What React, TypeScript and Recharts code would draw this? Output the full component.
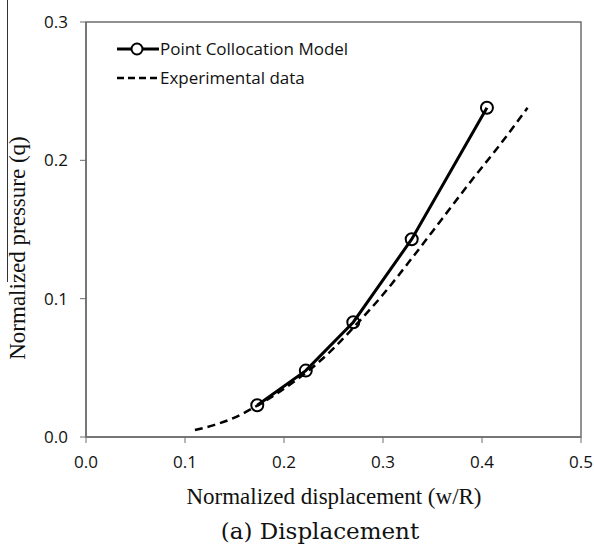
import React from "react";
import {
  LineChart,
  Line,
  XAxis,
  YAxis,
  ReferenceArea,
} from "recharts";

// Point collocation model results
const modelX = [0.173, 0.222, 0.27, 0.329, 0.405];
const modelQ = [0.023, 0.048, 0.083, 0.143, 0.238];

// Experimental curve
const expX = [0.11, 0.13, 0.15, 0.17, 0.19, 0.21, 0.23, 0.25, 0.27, 0.3, 0.33, 0.36, 0.39, 0.42, 0.446];
const expQ = [0.005, 0.0088, 0.014, 0.0215, 0.03, 0.04, 0.051, 0.064, 0.079, 0.103, 0.13, 0.158, 0.186, 0.213, 0.238];

const xTicks = [0, 0.1, 0.2, 0.3, 0.4, 0.5];
const yTicks = [0, 0.1, 0.2, 0.3];

const modelData = modelX.map((x, i) => ({ x, q: modelQ[i] }));
const expData = expX.map((x, i) => ({ x, q: expQ[i] }));

const AXIS_COLOR = "#6e6e6e";
const SANS = "'Open Sans', 'Liberation Sans', sans-serif";
const SERIF = "'Liberation Serif', 'DejaVu Serif', serif";

const MARGIN = { top: 22, right: 13, bottom: 80, left: 26 };

function LegendBox() {
  return (
    <div
      style={{
        position: "absolute",
        left: 117,
        top: 34,
        fontFamily: SANS,
        fontSize: 17,
        color: "#111",
        lineHeight: "29px",
      }}
    >
      <div style={{ display: "flex", alignItems: "center" }}>
        <svg width={42} height={16}>
          <line x1={0} y1={8} x2={42} y2={8} stroke="#000" strokeWidth={3} />
          <circle cx={20} cy={8} r={5.5} fill="#fff" stroke="#000" strokeWidth={2} />
        </svg>
        <span style={{ marginLeft: 1 }}>Point Collocation Model</span>
      </div>
      <div style={{ display: "flex", alignItems: "center" }}>
        <svg width={42} height={16}>
          <line x1={0} y1={8} x2={42} y2={8} stroke="#000" strokeWidth={2.5} strokeDasharray="7 4" />
        </svg>
        <span style={{ marginLeft: 1 }}>Experimental data</span>
      </div>
    </div>
  );
}

export default function App() {
  return (
    <div style={{ position: "absolute", left: 0, top: 0, width: 594, height: 547, background: "#fff" }}>
      <LineChart width={594} height={547} margin={MARGIN}>
        {/* plot frame */}
        <ReferenceArea
          x1={0}
          x2={0.5}
          y1={0}
          y2={0.3}
          fill="none"
          fillOpacity={0}
          stroke={AXIS_COLOR}
          strokeWidth={1.5}
          ifOverflow="visible"
        />
        <XAxis
          type="number"
          dataKey="x"
          domain={[0, 0.5]}
          ticks={xTicks}
          tickFormatter={(v: number) => v.toFixed(1)}
          allowDataOverflow
          height={30}
          axisLine={{ stroke: AXIS_COLOR, strokeWidth: 1.5 }}
          tickLine={{ stroke: AXIS_COLOR }}
          tickSize={6}
          tick={{ fill: "#111", fontSize: 17, fontFamily: SANS }}
          tickMargin={13}
        />
        <YAxis
          type="number"
          dataKey="q"
          domain={[0, 0.3]}
          ticks={yTicks}
          tickFormatter={(v: number) => v.toFixed(1)}
          width={60}
          axisLine={{ stroke: AXIS_COLOR, strokeWidth: 1.5 }}
          tickLine={{ stroke: AXIS_COLOR }}
          tickSize={6}
          tick={{ fill: "#111", fontSize: 17, fontFamily: SANS }}
          tickMargin={12}
        />
        <Line
          data={expData}
          dataKey="q"
          type="monotone"
          stroke="#000"
          strokeWidth={2.5}
          strokeDasharray="8 5"
          dot={false}
          isAnimationActive={false}
        />
        <Line
          data={modelData}
          dataKey="q"
          type="linear"
          stroke="#000"
          strokeWidth={3}
          dot={{ r: 6, fill: "none", stroke: "#000", strokeWidth: 2 }}
          isAnimationActive={false}
        />
      </LineChart>
      {/* scan artifact line at the left edge */}
      <div
        style={{
          position: "absolute",
          left: 7,
          top: 0,
          width: 0,
          height: 282,
          borderLeft: "1.5px solid #333",
        }}
      />
      <LegendBox />
      <div
        style={{
          position: "absolute",
          left: 18,
          top: 248,
          transform: "translate(-50%, -50%) rotate(-90deg)",
          whiteSpace: "nowrap",
          fontFamily: SERIF,
          fontSize: 23,
          color: "#111",
        }}
      >
        Normalized pressure (q)
      </div>
      <div
        style={{
          position: "absolute",
          left: 334,
          top: 497,
          transform: "translate(-50%, -50%)",
          whiteSpace: "nowrap",
          fontFamily: SERIF,
          fontSize: 23,
          color: "#111",
        }}
      >
        Normalized displacement (w/R)
      </div>
      <div
        style={{
          position: "absolute",
          left: 320,
          top: 531,
          transform: "translate(-50%, -50%)",
          whiteSpace: "nowrap",
          fontFamily: "'DejaVu Serif', serif",
          fontSize: 23,
          color: "#111",
        }}
      >
        (a) Displacement
      </div>
    </div>
  );
}
